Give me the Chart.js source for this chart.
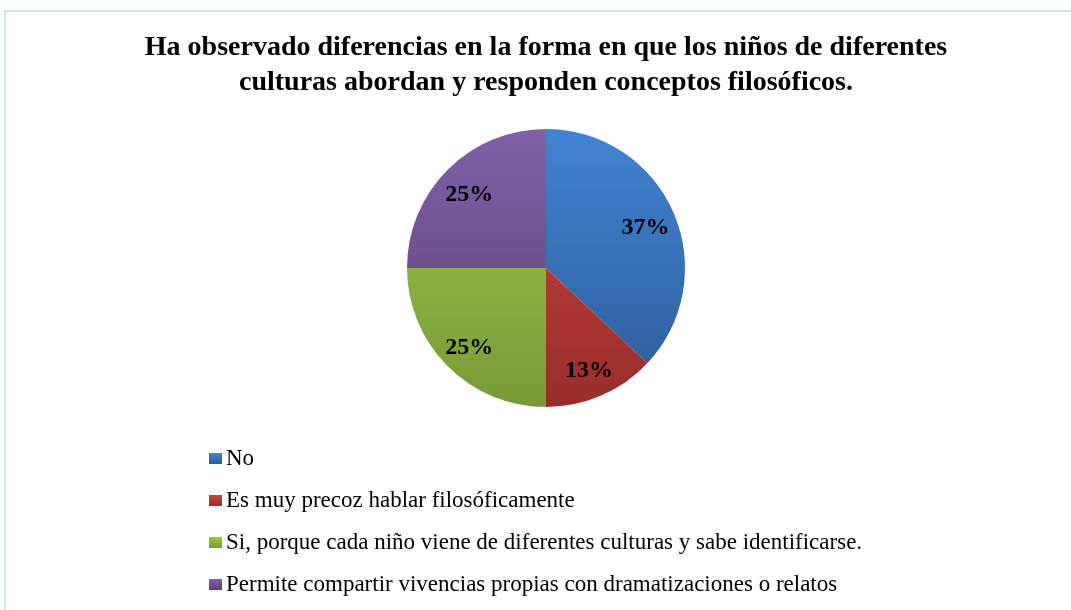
<!DOCTYPE html>
<html lang="es">
<head>
<meta charset="UTF-8">
<title>Diferencias culturales</title>
<script src="https://cdn.jsdelivr.net/npm/chart.js"></script>
<style>
  body { margin: 0; background: #fff; }
  #marco { position: absolute; left: 4px; top: 10px; width: 1100px; height: 700px;
           border-left: 2px solid #d3e0f2; border-top: 2px solid #d3e0f2; }
  #lienzo { position: absolute; left: 0; top: 0; width: 1071px; height: 610px; }
  #leyenda { position: absolute; left: 209px; top: 437px; font-family: "Liberation Serif", "Times New Roman", serif;
             font-size: 23px; color: #000; }
  .item { height: 42px; display: flex; align-items: center; }
  .caja { width: 13px; height: 11px; margin-right: 4px; }
</style>
</head>
<body>
<div id="marco"></div>
<div id="lienzo"><canvas id="grafico" width="1071" height="610"></canvas></div>
<div id="leyenda"></div>
<script>
  var categorias = ["No", "Es muy precoz hablar filosóficamente",
    "Si, porque cada niño viene de diferentes culturas y sabe identificarse.",
    "Permite compartir vivencias propias con dramatizaciones o relatos"];
  var porcentajes = [37, 13, 25, 25];
  var coloresArriba = ["#4283d3", "#cc4441", "#a0c84e", "#8060a8"];
  var coloresAbajo = ["#2c5c98", "#982d2a", "#789a36", "#5b4076"];
  var titulo = ["Ha observado diferencias en la forma en que los niños de diferentes",
    "culturas abordan y responden conceptos filosóficos."];

  function relleno(ctx) {
    var area = ctx.chart.chartArea;
    var i = ctx.dataIndex;
    if (!area) return coloresArriba[i];
    var g = ctx.chart.ctx.createLinearGradient(0, area.top, 0, area.bottom);
    g.addColorStop(0, coloresArriba[i]);
    g.addColorStop(1, coloresAbajo[i]);
    return g;
  }

  var etiquetas = {
    id: "etiquetas",
    afterDatasetsDraw: function(chart) {
      var c = chart.ctx;
      c.save();
      c.font = "bold 24px 'Liberation Serif', 'Times New Roman', serif";
      c.fillStyle = "#000";
      c.textAlign = "center";
      c.textBaseline = "middle";
      chart.getDatasetMeta(0).data.forEach(function(arco, i) {
        var a = (arco.startAngle + arco.endAngle) / 2;
        var r = arco.outerRadius * 0.78;
        c.fillText(porcentajes[i] + "%", arco.x + Math.cos(a) * r, arco.y + Math.sin(a) * r + 3);
      });
      c.restore();
    }
  };

  new Chart(document.getElementById("grafico"), {
    type: "pie",
    data: {
      labels: categorias,
      datasets: [{ data: porcentajes, backgroundColor: relleno, borderWidth: 0 }]
    },
    options: {
      responsive: false,
      animation: false,
      layout: { padding: { top: 10, left: 21, right: 0, bottom: 203 } },
      plugins: {
        legend: { display: false },
        tooltip: { enabled: false },
        title: {
          display: true,
          text: titulo,
          color: "#000",
          font: { family: "'Liberation Serif', 'Times New Roman', serif", size: 28, weight: "bold", lineHeight: 1.25 },
          padding: { top: 20.5, bottom: 28.5 }
        }
      }
    },
    plugins: [etiquetas]
  });

  var leyenda = document.getElementById("leyenda");
  categorias.forEach(function(nombre, i) {
    leyenda.innerHTML += '<div class="item"><span class="caja" style="background: linear-gradient(' +
      coloresArriba[i] + ',' + coloresAbajo[i] + ')"></span>' + nombre + '</div>';
  });
</script>
</body>
</html>
